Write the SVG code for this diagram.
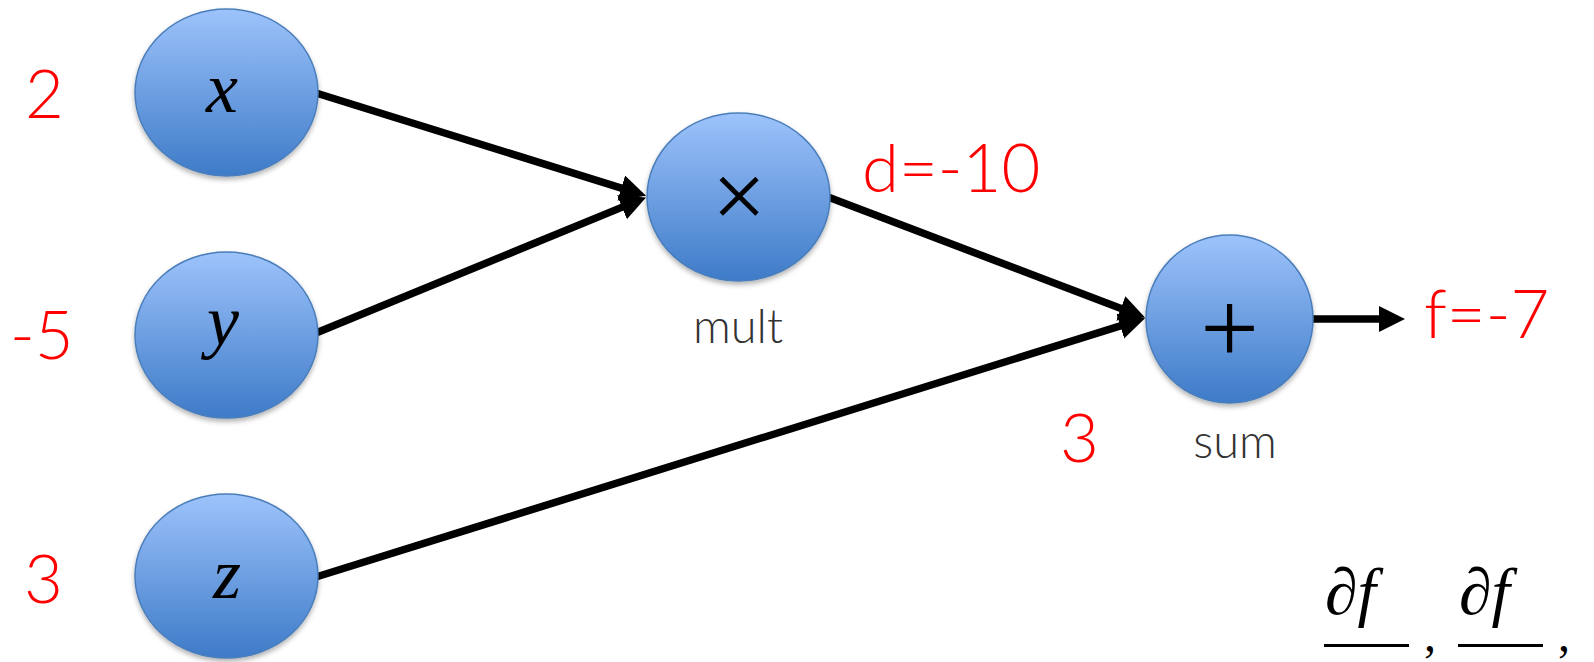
<svg xmlns="http://www.w3.org/2000/svg" width="1594" height="662" viewBox="0 0 1594 662">
<style>
.node{fill:url(#g);stroke:#4a7ebb;stroke-width:1.5;filter:url(#sh)}
.math{font-family:"Liberation Serif","DejaVu Serif",serif;font-style:italic;fill:#000}
.val{font-family:Lato,"Open Sans",sans-serif;font-weight:300;fill:#ff0000;font-size:67px}
.cap{font-family:Lato,"Open Sans",sans-serif;font-weight:300;fill:#333;font-size:47px;text-anchor:middle}
.edge{stroke:#000;stroke-width:7.5;fill:none;marker-end:url(#ah)}
</style>
<defs>
<linearGradient id="g" x1="0" y1="0" x2="0" y2="1">
<stop offset="0" stop-color="#9dc3fb"/>
<stop offset="1" stop-color="#3e7bc8"/>
</linearGradient>
<filter id="sh" x="-20%" y="-20%" width="140%" height="150%">
<feDropShadow dx="0" dy="3" stdDeviation="2.5" flood-color="#000" flood-opacity="0.3"/>
</filter>
<marker id="ah" markerUnits="userSpaceOnUse" markerWidth="28" markerHeight="28" refX="1" refY="13" orient="auto">
<path d="M0,0 L26,13 L0,26 z" fill="#000"/>
</marker>
</defs>
<rect width="1594" height="662" fill="#fff"/>
<g id="connectors">
<line class="edge" x1="316" y1="93" x2="622.2" y2="188.3"/>
<line class="edge" x1="316" y1="333" x2="622.9" y2="206.9"/>
<line class="edge" x1="828" y1="197" x2="1121.7" y2="308.7"/>
<line class="edge" x1="316" y1="577" x2="1121.2" y2="325.7"/>
<line class="edge" x1="1313" y1="319" x2="1380" y2="319"/>
</g>
<g id="node-x">
<ellipse class="node" cx="226.5" cy="92.5" rx="91.5" ry="83.5"/>
<text class="math" x="222" y="112" font-size="72" text-anchor="middle">x</text>
</g>
<g id="node-y">
<ellipse class="node" cx="226.5" cy="335" rx="91.5" ry="83"/>
<text class="math" x="223" y="345" font-size="72" text-anchor="middle">y</text>
</g>
<g id="node-z">
<ellipse class="node" cx="226.5" cy="576" rx="91.5" ry="82"/>
<text class="math" x="227" y="598" font-size="72" text-anchor="middle">z</text>
</g>
<g id="node-mult">
<ellipse class="node" cx="738.5" cy="197" rx="91.5" ry="84"/>
<text x="739" y="228" font-family="Liberation Serif,serif" font-size="96" text-anchor="middle">×</text>
<text class="cap" x="738" y="343">mult</text>
</g>
<g id="node-sum">
<ellipse class="node" cx="1229.5" cy="319" rx="83.5" ry="84"/>
<text x="1229.5" y="363" font-family="Liberation Serif,serif" font-size="104" text-anchor="middle">+</text>
<text class="cap" x="1235" y="458">sum</text>
</g>
<g id="values">
<text class="val" x="25" y="118">2</text>
<text class="val" x="10" y="359">-5</text>
<text class="val" x="24" y="603">3</text>
<text class="val" x="862" y="192">d=-10</text>
<text class="val" x="1060" y="462">3</text>
<text class="val" x="1424" y="338">f=-7</text>
</g>
<g id="derivatives">
<text class="math" x="1325" y="614" font-size="66">∂f</text>
<rect x="1324" y="644" width="85" height="3" fill="#000"/>
<text x="1424" y="651" font-family="Liberation Serif,serif" font-size="48">,</text>
<text class="math" x="1459" y="614" font-size="66">∂f</text>
<rect x="1458" y="644" width="85" height="3" fill="#000"/>
<text x="1558" y="651" font-family="Liberation Serif,serif" font-size="48">,</text>
</g>
</svg>
